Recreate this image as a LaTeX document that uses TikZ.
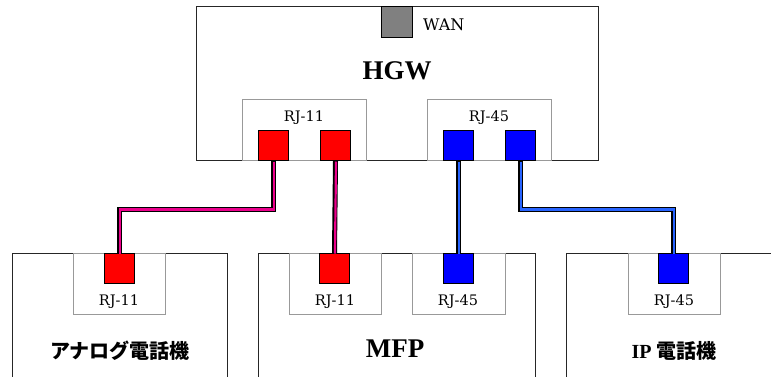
\documentclass[tikz,border=0pt]{standalone}
\usepackage{fontspec}
\setmainfont{Liberation Serif}
\newfontfamily\jpfont{Noto Sans CJK JP}
\newfontfamily\labelfont{DejaVu Serif}
\usetikzlibrary{positioning}
\definecolor{lanblue}{RGB}{40,100,255}

\begin{document}
\begin{tikzpicture}[x=1pt, y=-1pt]
				\tikzstyle{device} = [rectangle, draw=black!85, line width=1pt, inner sep=0pt, anchor=north west]
				\tikzstyle{portbox} = [rectangle, draw=black!40, fill=white, line width=1pt, inner sep=0pt, anchor=north west, minimum height=61pt]
				\tikzstyle{jack} = [rectangle, draw=black, line width=1pt, inner sep=0pt, minimum size=30pt, anchor=north west]
				\tikzstyle{telcable} = [line width=5pt, draw=black, postaction={draw=magenta, line width=2.2pt, transform canvas={shift={(0.5pt,-0.5pt)}}}]
				\tikzstyle{lancable} = [line width=5pt, draw=black, postaction={draw=lanblue, line width=2.2pt, transform canvas={shift={(0.5pt,-0.5pt)}}}]
				\tikzstyle{portlabel} = [font=\labelfont\fontsize{14.5}{14.5}\selectfont, inner sep=0pt]
				\tikzstyle{bigname} = [font=\fontsize{27}{27}\selectfont\bfseries, inner sep=0pt]
				\tikzstyle{jpname} = [font=\fontsize{20}{20}\selectfont, inner sep=0pt]

				\useasboundingbox (0,0) rectangle (771,376);
				\clip (0,0) rectangle (771,376);

				% HGW
				\node [device, minimum width=402pt, minimum height=154pt] (hgw) at (196,6) {};
				\node [jack, fill=black!50, minimum size=31pt] (wan) at (381,6) {};
				\node [portlabel, font=\labelfont\fontsize{16}{16}\selectfont, anchor=west] (wanlabel) at (423,24.5) {WAN};
				\node [bigname] (hgwlabel) at (397,71) {HGW};
				\node [portbox, minimum width=124pt] (hgwtel) at (242,99) {};
				\node [portbox, minimum width=124pt] (hgwlan) at (427,99) {};
				\node [portlabel] at (304,118) {RJ-11};
				\node [portlabel] at (489,118) {RJ-45};
				\node [jack, fill=red] (hgwa) at (258,130) {};
				\node [jack, fill=red] (hgwb) at (320,130) {};
				\node [jack, fill=blue] (hgwc) at (443,130) {};
				\node [jack, fill=blue] (hgwd) at (505,130) {};

				% terminals
				\node [device, minimum width=215pt, minimum height=140pt] (analog) at (12,253) {};
				\node [device, minimum width=277pt, minimum height=140pt] (mfp) at (258,253) {};
				\node [device, minimum width=220pt, minimum height=140pt] (ipphone) at (566,253) {};

				\node [portbox, minimum width=92pt] (analogtel) at (73,253) {};
				\node [portbox, minimum width=92pt] (mfptel) at (289,253) {};
				\node [portbox, minimum width=93pt] (mfplan) at (412,253) {};
				\node [portbox, minimum width=92pt] (iplan) at (628,253) {};
				\node [portlabel] at (119,302) {RJ-11};
				\node [portlabel] at (335,302) {RJ-11};
				\node [portlabel] at (458,302) {RJ-45};
				\node [portlabel] at (674,302) {RJ-45};
				\node [jack, fill=red] (analoga) at (104,253) {};
				\node [jack, fill=red] (mfpa) at (319,253) {};
				\node [jack, fill=blue] (mfpb) at (443,253) {};
				\node [jack, fill=blue] (ipa) at (658,253) {};

				\node [jpname] at (120,351) {\jpfont\bfseries アナログ電話機};
				\node [bigname] at (395,349) {MFP};
				\node [jpname] at (674,351) {\bfseries IP \jpfont 電話機};

				% cables
				\draw [telcable] (hgwa.south) -- ++(0,48) -| (analoga.north);
				\draw [telcable] (hgwb.south) -- (mfpa.north);
				\draw [lancable] (hgwc.south) -- (mfpb.north);
				\draw [lancable] (hgwd.south) -- ++(0,48) -| (ipa.north);
			\end{tikzpicture}
\end{document}
